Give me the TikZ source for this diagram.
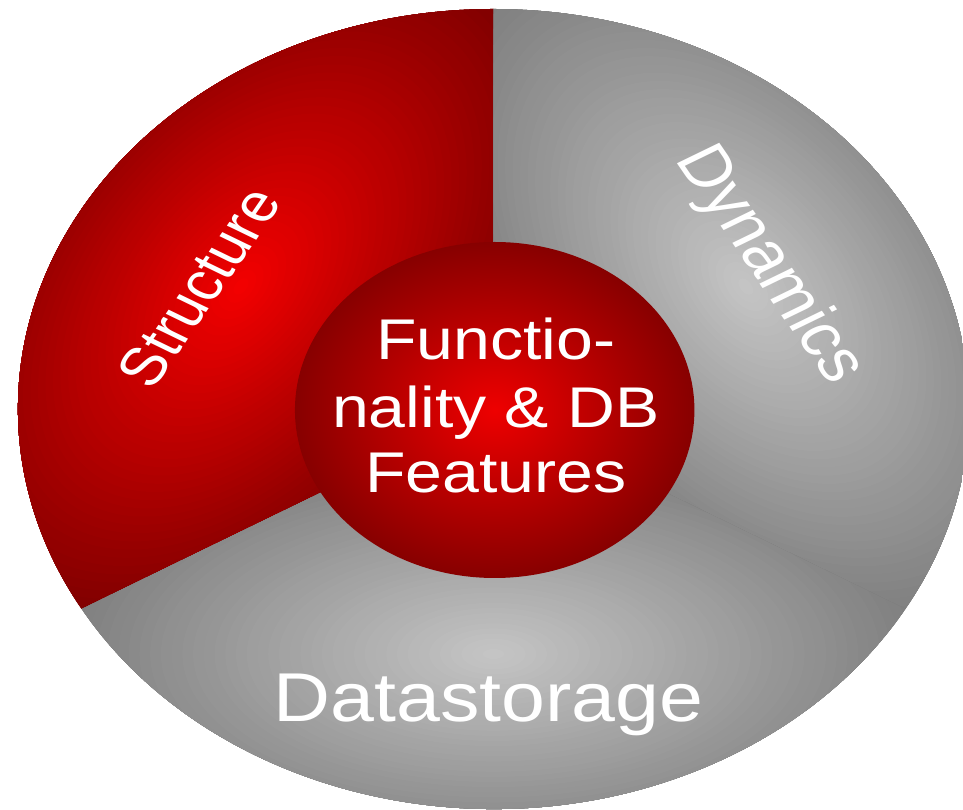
\documentclass[tikz,border=0pt]{standalone}
\usepackage{fontspec}
\setmainfont{Liberation Sans}
\usetikzlibrary{calc}
\definecolor{redL}{RGB}{242,0,0}
\definecolor{redD}{RGB}{125,0,0}
\definecolor{grayL}{RGB}{196,196,196}
\definecolor{grayD}{RGB}{126,126,126}
\definecolor{innerL}{RGB}{238,0,0}
\definecolor{innerD}{RGB}{135,0,0}
\tikzset{
  lbl/.style={text=white, inner sep=0pt, transform shape},
  bigtext/.style={lbl, xscale=0.97, font=\fontsize{49}{58}\selectfont},
  sidetext/.style={lbl, font=\fontsize{46}{54}\selectfont},
  dyntext/.style={lbl, font=\fontsize{51}{60}\selectfont},
  hugetext/.style={lbl, xscale=0.96, font=\fontsize{59}{68}\selectfont}
}
\begin{document}
\begin{tikzpicture}[x=0.03cm, y=0.03cm, xscale=1.1889]
\useasboundingbox (0,0) rectangle (810,810);
\clip (0,0) rectangle (810,810);
\coordinate (O) at (415,401);
\coordinate (Oi) at (416,400);
% Structure sector
\begin{scope}
  \clip (O) -- ++(90:400) arc[start angle=90, end angle=210, radius=400] -- cycle;
  \fill[redD] (O) circle (405);
  \foreach \k in {0,...,40}{
    \pgfmathsetmacro\s{1-\k/41}
    \pgfmathsetmacro\p{100*\k/40}
    \fill[redL!\p!redD, rotate around={60:(O)}] ($(O)+(90:245)$) ellipse ({370*\s} and {210*\s});
  }
\end{scope}
% Dynamics sector
\begin{scope}
  \clip (O) -- ++(-30:400) arc[start angle=-30, end angle=90, radius=400] -- cycle;
  \fill[grayD] (O) circle (405);
  \foreach \k in {0,...,40}{
    \pgfmathsetmacro\s{1-\k/41}
    \pgfmathsetmacro\p{100*\k/40}
    \fill[grayL!\p!grayD, rotate around={-60:(O)}] ($(O)+(90:245)$) ellipse ({370*\s} and {210*\s});
  }
\end{scope}
% Datastorage sector
\begin{scope}
  \clip (O) -- ++(210:400) arc[start angle=210, end angle=330, radius=400] -- cycle;
  \fill[grayD] (O) circle (405);
  \foreach \k in {0,...,40}{
    \pgfmathsetmacro\s{1-\k/41}
    \pgfmathsetmacro\p{100*\k/40}
    \fill[grayL!\p!grayD] ($(O)+(270:245)$) ellipse ({370*\s} and {210*\s});
  }
\end{scope}
% inner circle
\shade[inner color=innerL, outer color=innerD] (Oi) circle (168);
% labels
\node[bigtext, anchor=base] (f1) at (417,450) {Functio-};
\node[bigtext, anchor=base] (f2) at (417,382) {nality \& DB};
\node[bigtext, anchor=base] (f3) at (417,317) {Features};
\node[hugetext, anchor=base] (ds) at (411,88) {Datastorage};
\node[sidetext, rotate=60, text depth=0pt] (st) at (167,523) {Structure};
\node[dyntext, rotate=-60, text depth=0pt] (dy) at (652,548) {Dynamics};
\end{tikzpicture}
\end{document}
